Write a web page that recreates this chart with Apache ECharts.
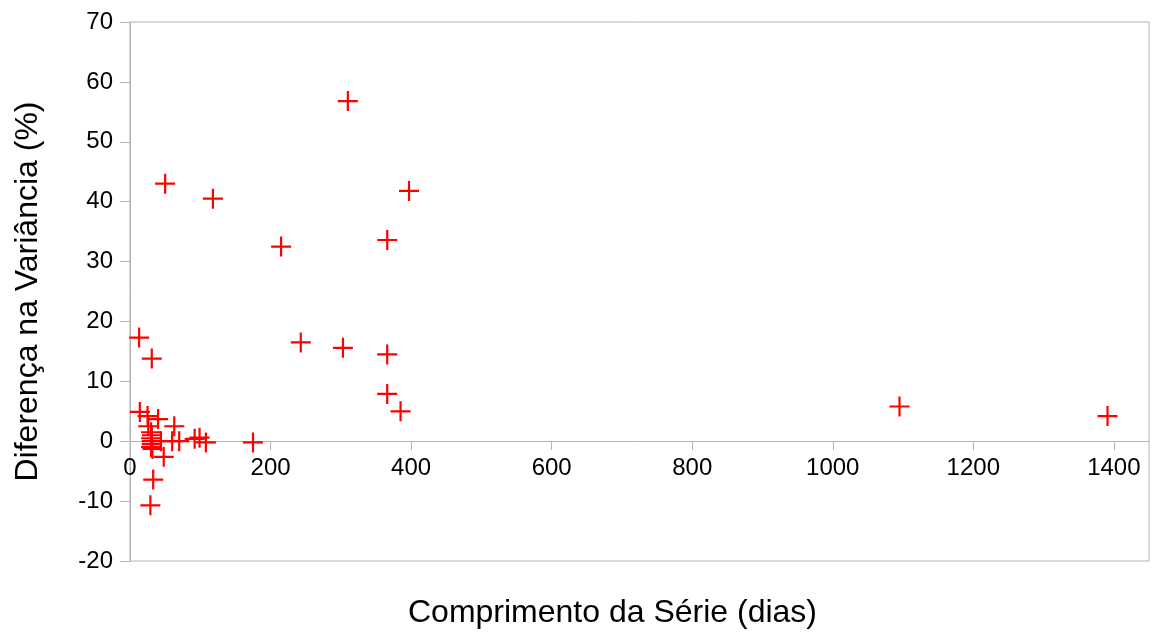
<!DOCTYPE html>
<html>
<head>
<meta charset="utf-8">
<script src="https://cdn.jsdelivr.net/npm/echarts@6/dist/echarts.min.js"></script>
<style>html,body{margin:0;padding:0;background:#fff;}#c{width:1155px;height:637px;}</style>
</head>
<body>
<div id="c"></div>
<script>
const xTitle = 'Comprimento da Série (dias)';
const yTitle = 'Diferença na Variância (%)';
const xTicks = [0, 200, 400, 600, 800, 1000, 1200, 1400];
const yTicks = [-20, -10, 0, 10, 20, 30, 40, 50, 60, 70];
const seriesLength = [310, 50, 118, 397, 215, 366, 243, 303, 366, 366, 385, 1095, 1391,
  13, 31, 14, 25, 40, 63, 26, 30, 31, 30, 31, 31, 30, 32, 44, 60, 70, 92, 99, 108, 175, 48, 33, 29];
const varianceDiff = [56.8, 43, 40.5, 41.8, 32.5, 33.6, 16.5, 15.6, 14.5, 7.9, 5, 5.8, 4.2,
  17.3, 13.8, 4.9, 4.2, 3.7, 2.5, 2.5, 1.5, 1, 0.5, 0, -0.5, -1, -1.3, 0, 0, 0, 0.4, 0.6, -0.2, -0.2, -2.6, -6.4, -10.7];

const data = seriesLength.map((x, i) => [x, varianceDiff[i]]);
const font = 'Liberation Sans, Arial, sans-serif';
const chart = echarts.init(document.getElementById('c'));
chart.setOption({
  animation: false,
  grid: { left: 130, right: 6, top: 22, bottom: 76, show: true, borderColor: '#b3b3b3', borderWidth: 1,
    containLabel: false, outerBoundsMode: 'none' },
  xAxis: {
    type: 'value', min: 0, max: 1450, position: 'bottom', offset: -120,
    name: xTitle, nameLocation: 'middle', nameGap: 156,
    nameTextStyle: { fontFamily: font, fontSize: 32, color: '#000', padding: [0, 54, 0, 0] },
    axisLine: { show: true, onZero: false, lineStyle: { color: '#b3b3b3' } },
    axisTick: { show: true, length: 9, customValues: xTicks, lineStyle: { color: '#b3b3b3' } },
    axisLabel: { customValues: xTicks, margin: 15, fontFamily: font, fontSize: 24, color: '#000',
      formatter: v => String(v) },
    splitLine: { show: false }
  },
  yAxis: {
    type: 'value', min: -20, max: 70, interval: 10,
    name: yTitle, nameLocation: 'middle', nameGap: 86,
    nameTextStyle: { fontFamily: font, fontSize: 32, color: '#000' },
    axisLine: { show: true, onZero: false, lineStyle: { color: '#b3b3b3' } },
    axisTick: { show: true, length: 10, customValues: yTicks, lineStyle: { color: '#b3b3b3' } },
    axisLabel: { customValues: yTicks, margin: 17, fontFamily: font, fontSize: 24, color: '#000',
      formatter: v => String(v) },
    splitLine: { show: false }
  },
  series: [{
    type: 'scatter',
    data: data,
    symbol: 'path://M-1.1,-10H1.1V-1.1H10V1.1H1.1V10H-1.1V1.1H-10V-1.1H-1.1Z',
    symbolSize: 20,
    itemStyle: { color: '#ff0000', opacity: 1 }
  }]
});
</script>
</body>
</html>
